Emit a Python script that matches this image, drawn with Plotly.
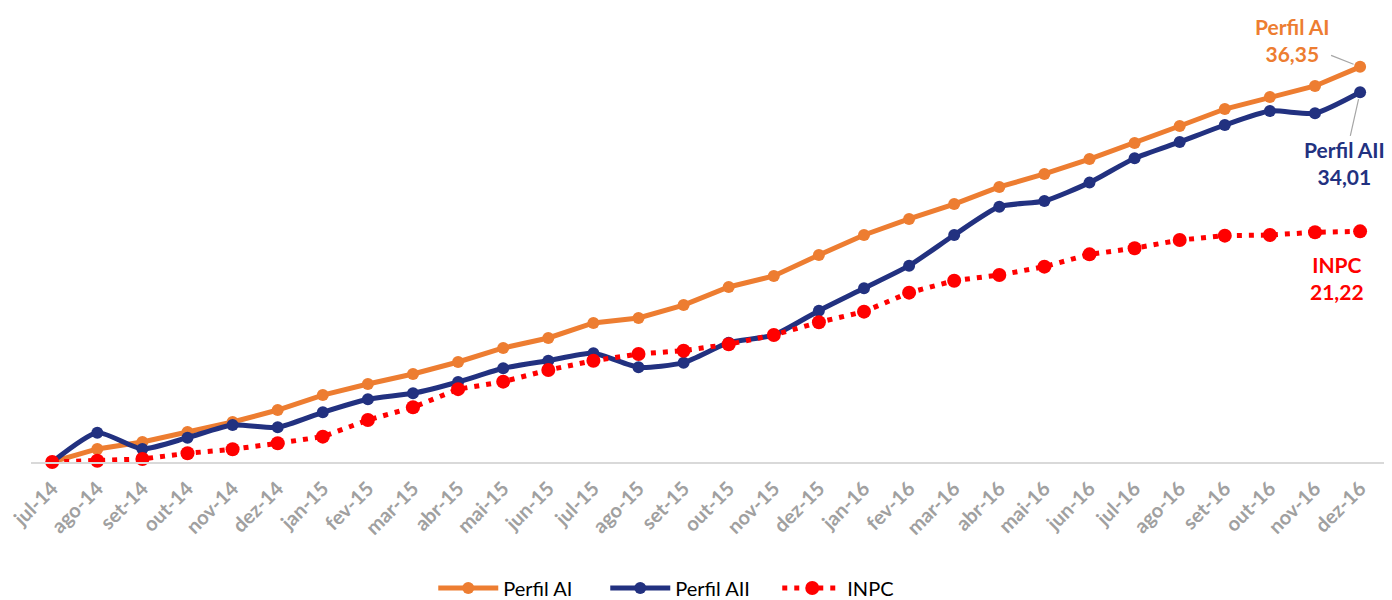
import plotly.graph_objects as go

months = ["jul-14", "ago-14", "set-14", "out-14", "nov-14", "dez-14",
          "jan-15", "fev-15", "mar-15", "abr-15", "mai-15", "jun-15",
          "jul-15", "ago-15", "set-15", "out-15", "nov-15", "dez-15",
          "jan-16", "fev-16", "mar-16", "abr-16", "mai-16", "jun-16",
          "jul-16", "ago-16", "set-16", "out-16", "nov-16", "dez-16"]

perfil_ai = [0.0, 1.2, 1.84, 2.76, 3.68, 4.78, 6.16, 7.18, 8.1, 9.2,
             10.49, 11.41, 12.79, 13.25, 14.44, 16.1, 17.11, 19.04, 20.88, 22.36,
             23.73, 25.3, 26.5, 27.87, 29.35, 30.91, 32.47, 33.58, 34.59, 36.35]

perfil_aii = [0.0, 2.7, 1.2, 2.24, 3.4, 3.19, 4.57, 5.77, 6.32, 7.36,
              8.62, 9.32, 10.0, 8.71, 9.14, 10.98, 11.68, 13.92, 15.98, 18.06,
              20.88, 23.49, 24.01, 25.7, 27.94, 29.44, 31.0, 32.29, 32.08, 34.01]

inpc = [0.0, 0.12, 0.28, 0.8, 1.17, 1.72, 2.33, 3.86, 5.03, 6.7,
        7.39, 8.46, 9.32, 9.94, 10.24, 10.83, 11.68, 12.85, 13.83, 15.58,
        16.68, 17.2, 17.97, 19.1, 19.66, 20.42, 20.82, 20.88, 21.13, 21.22]

ORANGE = "#ED7D31"
NAVY = "#223180"
RED = "#FF0000"
FONT = "Lato"

fig = go.Figure()
fig.add_trace(go.Scatter(
    x=months, y=perfil_ai, name="Perfil AI", mode="lines+markers",
    line=dict(color=ORANGE, width=5), marker=dict(color=ORANGE, size=12),
    cliponaxis=False))
fig.add_trace(go.Scatter(
    x=months, y=perfil_aii, name="Perfil AII", mode="lines+markers",
    line=dict(color=NAVY, width=5, shape="spline", smoothing=0.6),
    marker=dict(color=NAVY, size=12), cliponaxis=False))
fig.add_trace(go.Scatter(
    x=months, y=inpc, name="INPC", mode="lines+markers",
    line=dict(color=RED, width=5, dash="5px,7px"),
    marker=dict(color=RED, size=14), cliponaxis=False))

last = months[-1]
fig.add_annotation(x=last, y=perfil_ai[-1], text="Perfil AI<br>36,35",
                   showarrow=True, arrowhead=0, arrowwidth=1.2, arrowcolor="#A6A6A6",
                   ax=-68, ay=-27, standoff=7,
                   font=dict(family=FONT, size=21, color=ORANGE, weight="bold"))
fig.add_annotation(x=last, y=perfil_aii[-1], text="Perfil AII<br>34,01",
                   showarrow=True, arrowhead=0, arrowwidth=1.2, arrowcolor="#A6A6A6",
                   ax=-16, ay=71, standoff=7,
                   font=dict(family=FONT, size=21, color=NAVY, weight="bold"))
fig.add_annotation(x=last, y=inpc[-1], text="INPC<br>21,22",
                   showarrow=False, xshift=-23, yshift=-47,
                   font=dict(family=FONT, size=21, color=RED, weight="bold"))

# the page body adds an 8px offset, so the figure is 8px smaller and margins compensate
fig.update_layout(
    width=1384, height=592,
    paper_bgcolor="white", plot_bgcolor="white",
    margin=dict(l=23, r=8, t=12, b=138, autoexpand=False),
    showlegend=True,
    legend=dict(orientation="h", x=0.488, xanchor="center", y=-0.285,
                yanchor="middle", font=dict(family=FONT, size=20, color="#000000"),
                itemwidth=60, entrywidth=97, entrywidthmode="pixels"),
    xaxis=dict(type="category", range=[-0.47, 29.53], showgrid=False, automargin=False,
               showline=True, linecolor="#D9D9D9", linewidth=2, zeroline=False,
               ticks="", tickangle=-45, ticklabelstandoff=5,
               tickfont=dict(family=FONT, size=20, color="#A0A0A0", weight="bold")),
    yaxis=dict(range=[0, 40.66], visible=False, showgrid=False, zeroline=False,
               automargin=False),
)

fig.write_html("out.html")
